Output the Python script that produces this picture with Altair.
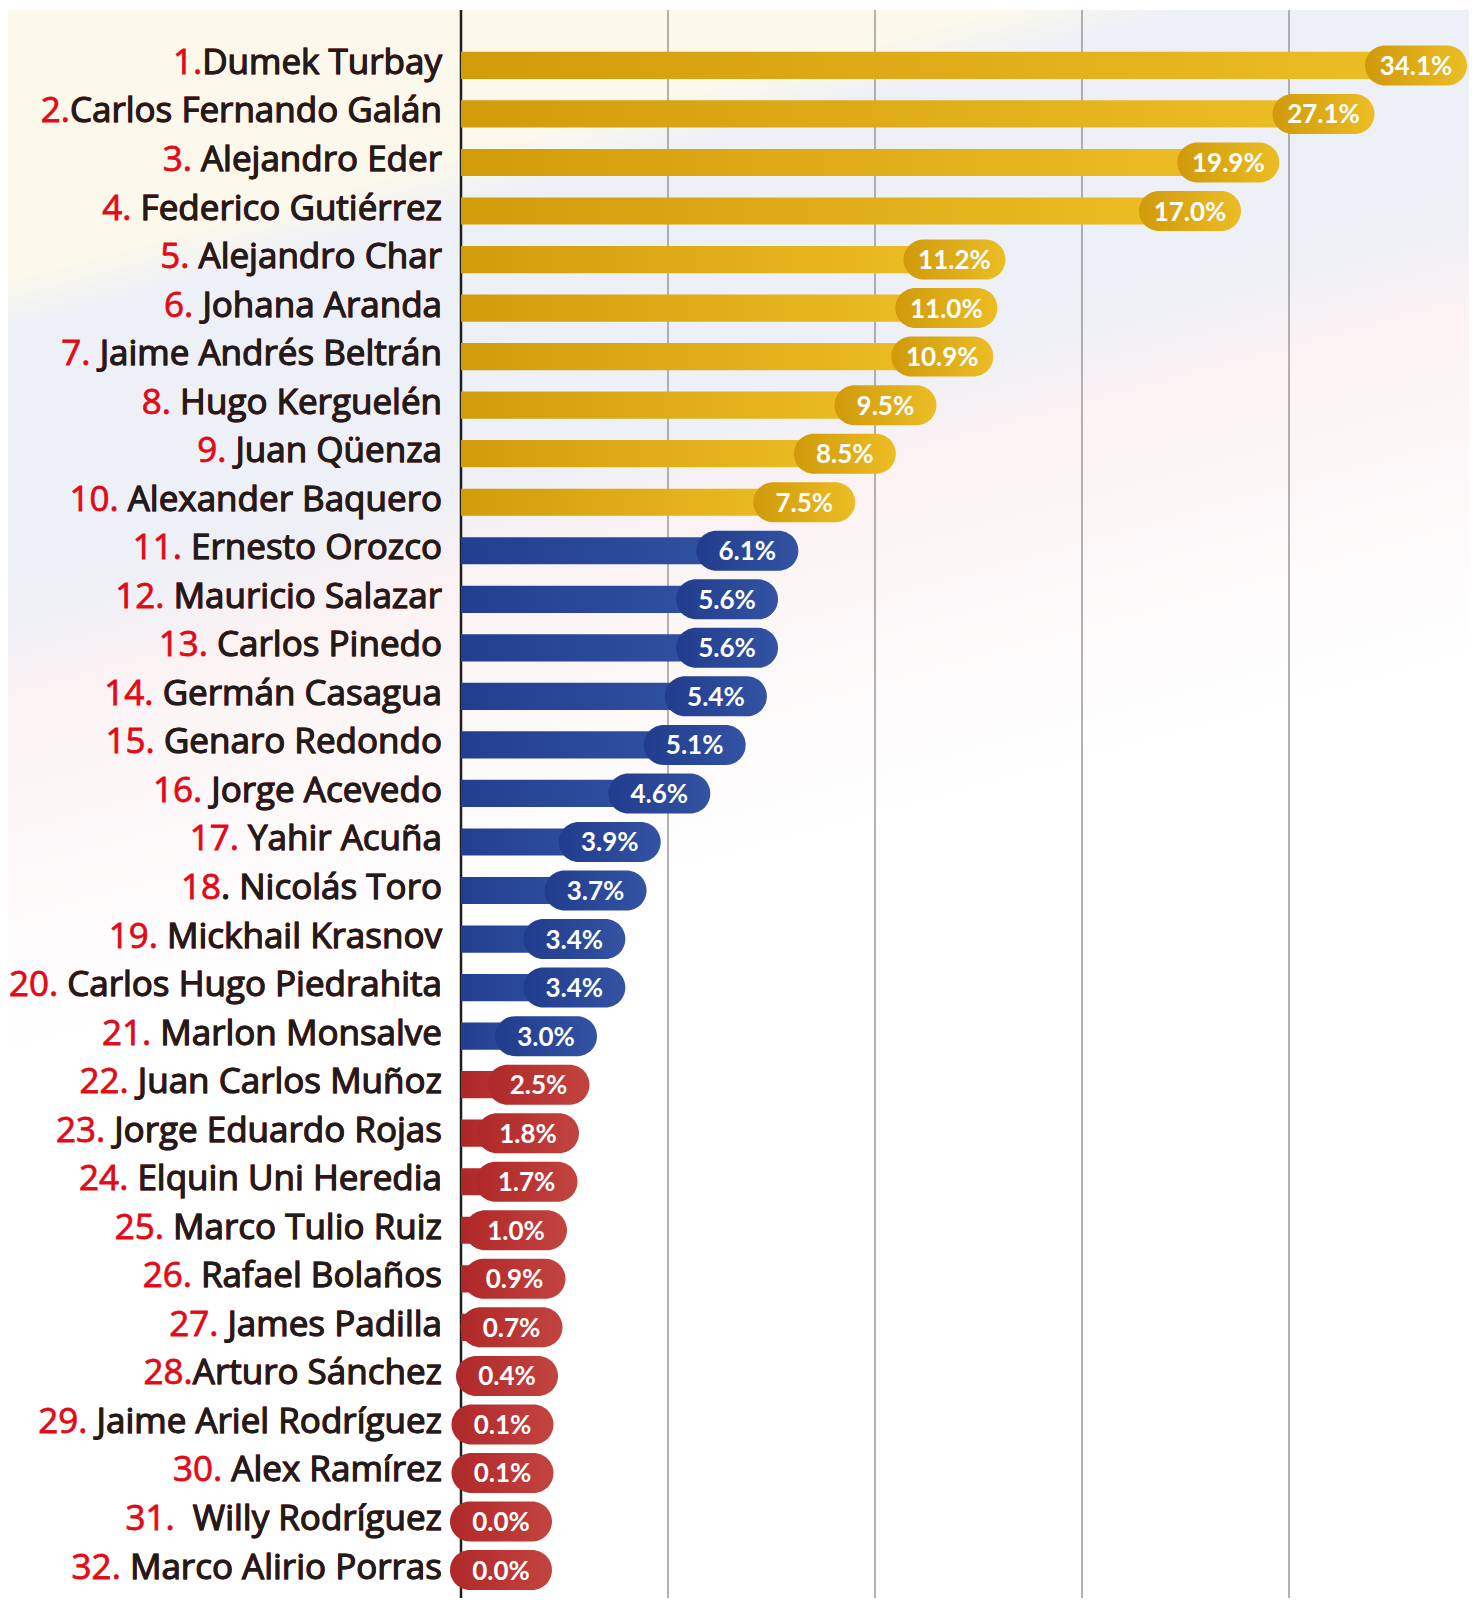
import altair as alt
import pandas as pd

# ---------------- data ----------------
ranks = list(range(1, 33))
red_parts = ["1.", "2.", "3. ", "4. ", "5. ", "6. ", "7. ", "8. ", "9. ", "10. ",
             "11. ", "12. ", "13. ", "14. ", "15. ", "16. ", "17. ", "18", "19. ", "20. ",
             "21. ", "22. ", "23. ", "24. ", "25. ", "26. ", "27. ", "28.", "29. ", "30. ",
             "31.\u00a0 ", "32. "]
dark_parts = ["Dumek Turbay", "Carlos Fernando Galán", "Alejandro Eder", "Federico Gutiérrez",
              "Alejandro Char", "Johana Aranda", "Jaime Andrés Beltrán", "Hugo Kerguelén",
              "Juan Qüenza", "Alexander Baquero", "Ernesto Orozco", "Mauricio Salazar",
              "Carlos Pinedo", "Germán Casagua", "Genaro Redondo", "Jorge Acevedo",
              "Yahir Acuña", ". Nicolás Toro", "Mickhail Krasnov", "Carlos Hugo Piedrahita",
              "Marlon Monsalve", "Juan Carlos Muñoz", "Jorge Eduardo Rojas", "Elquin Uni Heredia",
              "Marco Tulio Ruiz", "Rafael Bolaños", "James Padilla", "Arturo Sánchez",
              "Jaime Ariel Rodríguez", "Alex Ramírez", "Willy Rodríguez", "Marco Alirio Porras"]
values = [34.1, 27.1, 19.9, 17.0, 11.2, 11.0, 10.9, 9.5, 8.5, 7.5,
          6.1, 5.6, 5.6, 5.4, 5.1, 4.6, 3.9, 3.7, 3.4, 3.4,
          3.0, 2.5, 1.8, 1.7, 1.0, 0.9, 0.7, 0.4, 0.1, 0.1,
          0.0, 0.0]
groups = ["gold"] * 10 + ["blue"] * 11 + ["red"] * 11

grid_units = [1, 2, 3, 4]
axis_units = [0]

df = pd.DataFrame({
    "rank": ranks,
    "full": [r + d for r, d in zip(red_parts, dark_parts)],
    "dark": dark_parts,
    "v": values,
    "grp": groups,
})
df["lbl"] = [f"{v:.1f}%" for v in values]

W = 1008
H = 1588
GRID_STEP = 207
LABEL_FONT = "Open Sans"
VALUE_FONT = "Lato"
PILL_SHIFT = 40

bar_cols = {"gold": ("#D29B0A", "#EDBE25"),
            "blue": ("#233E90", "#3152A2"),
            "red": ("#AE2627", "#C0403D")}
pill_cols = {"gold": ("#D09A0A", "#ECBD25"),
             "blue": ("#223C8D", "#3353A3"),
             "red": ("#B02829", "#C2443F")}


def grad(c0, c1):
    return alt.LinearGradient(
        gradient="linear",
        stops=[alt.GradientStop(color=c0, offset=0), alt.GradientStop(color=c1, offset=1)],
        x1=0, x2=1, y1=0, y2=0)


# broken (piecewise-linear) value axis, as in the infographic
xscale = alt.Scale(domain=[0, 3, 5.5, 17, 34.1], range=[0, 45, 222, 689, 915],
                   nice=False, zero=False)
yenc = alt.Y("rank:O", sort="ascending", axis=None,
             scale=alt.Scale(paddingInner=0.44, paddingOuter=0.579, align=0.744))

base = alt.Chart(df)

# background (faded flag bands)
bg = alt.Chart(pd.DataFrame({"k": [0]})).mark_rect(
    color=alt.LinearGradient(
        gradient="linear",
        stops=[alt.GradientStop(color="#FCF9EA", offset=0),
               alt.GradientStop(color="#FBF8EC", offset=0.16),
               alt.GradientStop(color="#EDF0F6", offset=0.19),
               alt.GradientStop(color="#EEF0F6", offset=0.36),
               alt.GradientStop(color="#FBF2F3", offset=0.41),
               alt.GradientStop(color="#FFFFFF", offset=0.62),
               alt.GradientStop(color="#FFFFFF", offset=1)],
        x1=0, y1=0, x2=0.25, y2=1)
).encode(x=alt.value(-453), x2=alt.value(W), y=alt.value(0), y2=alt.value(H))

gscale = alt.Scale(domain=[0, W / GRID_STEP], nice=False, zero=False)
grid = alt.Chart(pd.DataFrame({"g": grid_units})).mark_rule(
    color="#8A8A8A", strokeWidth=1.3
).encode(x=alt.X("g:Q", scale=gscale, axis=None), y=alt.value(0), y2=alt.value(H))

axisline = alt.Chart(pd.DataFrame({"g": axis_units})).mark_rule(
    color="#1E1E1E", strokeWidth=2.5
).encode(x=alt.X("g:Q", scale=gscale, axis=None), y=alt.value(0), y2=alt.value(H))

layers = [bg, grid, axisline]

for g in ["gold", "blue", "red"]:
    c0, c1 = bar_cols[g]
    layers.append(
        base.transform_filter(alt.datum.grp == g).mark_bar(
            color=grad(c0, c1), xOffset=PILL_SHIFT
        ).encode(x=alt.X("v:Q", scale=xscale, axis=None), x2=alt.datum(0), y=yenc)
    )
for g in ["gold", "blue", "red"]:
    c0, c1 = pill_cols[g]
    layers.append(
        base.transform_filter(alt.datum.grp == g).mark_bar(
            color=grad(c0, c1), height=40, cornerRadius=20,
            xOffset=PILL_SHIFT - 51, x2Offset=PILL_SHIFT + 51
        ).encode(x=alt.X("v:Q", scale=xscale, axis=None), x2=alt.X2("v"), y=yenc)
    )

layers.append(
    base.mark_text(font=VALUE_FONT, fontSize=26, fontWeight="bold", color="white",
                   align="center", baseline="alphabetic", dx=PILL_SHIFT, dy=9.5
                   ).encode(x=alt.X("v:Q", scale=xscale, axis=None), y=yenc, text="lbl:N")
)

layers.append(
    base.mark_text(font=LABEL_FONT, fontSize=35, fontWeight=500, color="#E20A17",
                   stroke="#E20A17", strokeWidth=0.8,
                   align="right", baseline="alphabetic", dy=8.5
                   ).encode(x=alt.value(-19), y=yenc, text="full:N")
)
layers.append(
    base.mark_text(font=LABEL_FONT, fontSize=35, fontWeight=500, color="#1D1D1B",
                   stroke="#1D1D1B", strokeWidth=1.0,
                   align="right", baseline="alphabetic", dy=8.5
                   ).encode(x=alt.value(-19), y=yenc, text="dark:N")
)

chart = alt.layer(*layers).resolve_scale(x="independent").properties(
    width=W, height=H, padding=0
).configure_view(stroke=None)

chart.save("out.html", embed_options={"renderer": "svg", "actions": False})
